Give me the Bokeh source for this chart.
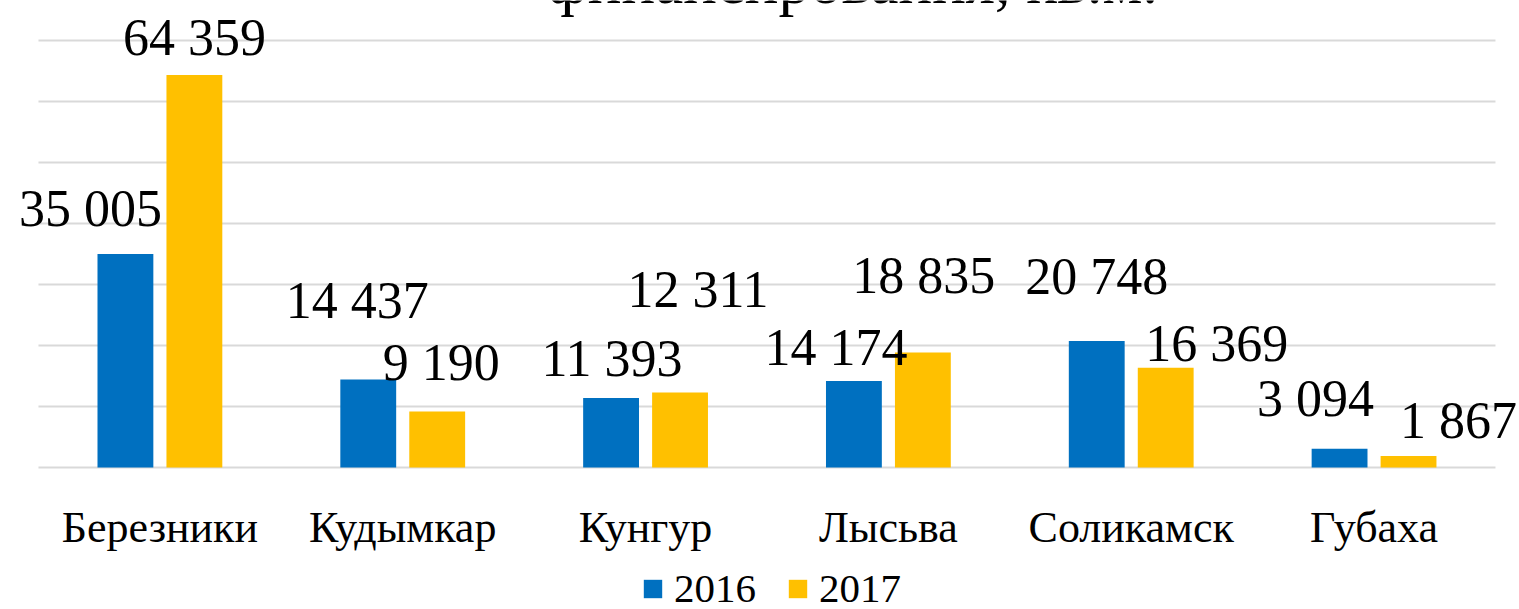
from bokeh.plotting import figure
from bokeh.models import (ColumnDataSource, Range1d, LabelSet, Label,
                          Legend, LegendItem)
from bokeh.embed import file_html
from bokeh.resources import INLINE
from bokeh.core.properties import value

# ---- data ----
cities = ["Березники", "Кудымкар", "Кунгур", "Лысьва", "Соликамск", "Губаха"]
years = ["2016", "2017"]
v2016 = [35005, 14437, 11393, 14174, 20748, 3094]
v2017 = [64359, 9190, 12311, 18835, 16369, 1867]
grid_values = [0, 10000, 20000, 30000, 40000, 50000, 60000, 70000]
title_text = "финансирования, кв.м."

# manual label placement (screen px) as in the reference
dx2016 = [-35, -11, 1, -18, 0, -24]
dy2016 = [45, 79, 40, 34, 64, 50]
dx2017 = [0, 4, 18, 1, 51, 50]
dy2017 = [37, 49, 103, 77, 24, 36]

def fmt(v):
    return f"{v:,}".replace(",", " ")

BLUE = "#0070C0"
YELLOW = "#FFC000"
FONT = "Liberation Serif"

idx = list(range(len(cities)))
off = 0.142
bw = 0.23

src = ColumnDataSource(dict(
    x=idx, city=cities,
    x16=[i - off for i in idx], x17=[i + off for i in idx],
    v2016=v2016, v2017=v2017, zero=[0] * len(cities),
    l2016=[fmt(v) for v in v2016], l2017=[fmt(v) for v in v2017],
    dx2016=dx2016, dy2016=dy2016, dx2017=dx2017, dy2017=dy2017,
))

W, H = 1519, 609
px_per_cat = 242.83
left_px = 159.4
base_px = 467
px_per_unit = 61 / 10000

x0 = -left_px / px_per_cat
x1 = x0 + W / px_per_cat
ytop = base_px / px_per_unit
ybot = -(H - base_px) / px_per_unit

p = figure(x_range=Range1d(x0, x1), y_range=Range1d(ybot, ytop),
           width=W, height=H, output_backend="svg", toolbar_location=None,
           x_axis_type=None, y_axis_type=None,
           min_border=0, min_border_left=0, min_border_right=0,
           min_border_top=0, min_border_bottom=0)
p.outline_line_color = None
p.background_fill_color = "white"
p.border_fill_color = "white"
p.xgrid.visible = False
p.ygrid.visible = False

# horizontal gridlines across the category area
n = len(cities)
gsrc = ColumnDataSource(dict(y=grid_values,
                             xa=[-0.5] * len(grid_values),
                             xb=[n - 0.5] * len(grid_values)))
p.segment(x0="xa", y0="y", x1="xb", y1="y", source=gsrc,
          line_color="#d9d9d9", line_width=2)

r16 = p.vbar(x="x16", top="v2016", width=bw, source=src, color=BLUE, line_color=None)
r17 = p.vbar(x="x17", top="v2017", width=bw, source=src, color=YELLOW, line_color=None)

for yr in years:
    p.add_layout(LabelSet(x="x" + yr[-2:], y="v" + yr, text="l" + yr,
                          x_offset="dx" + yr, y_offset="dy" + yr, source=src,
                          text_align="center", text_baseline="middle",
                          text_font=value(FONT), text_font_size="52px",
                          text_color="black"))

# category labels
p.add_layout(LabelSet(x="x", y="zero", text="city", y_offset=-74, source=src,
                      text_align="center", text_baseline="alphabetic",
                      text_font=value(FONT), text_font_size="44px",
                      text_color="black"))

# title (only its lower part is visible in the reference)
p.add_layout(Label(x=852, y=H + 19, x_units="screen", y_units="screen",
                   text=title_text, text_align="center", text_baseline="alphabetic",
                   text_font=FONT, text_font_size="63px", text_color="black"))

legend = Legend(items=[LegendItem(label=years[0], renderers=[r16]),
                       LegendItem(label=years[1], renderers=[r17])],
                orientation="horizontal", location=(641, -3),
                label_text_font=FONT, label_text_font_size="41px",
                label_text_color="black",
                glyph_width=23, glyph_height=23, label_standoff=10, spacing=30,
                padding=0, margin=0, border_line_color=None,
                background_fill_alpha=0)
p.add_layout(legend, "center")

open("out.html", "w").write(file_html(p, INLINE))
